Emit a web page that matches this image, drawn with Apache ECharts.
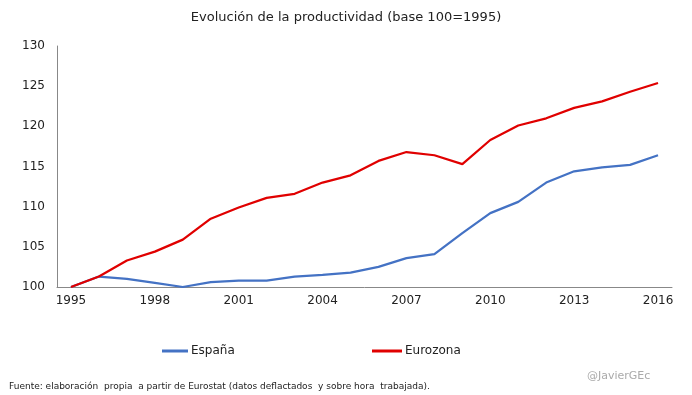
<!DOCTYPE html>
<html>
<head>
<meta charset="utf-8">
<script src="https://cdn.jsdelivr.net/npm/echarts@6/dist/echarts.min.js"></script>
<style>
html,body{margin:0;padding:0;background:#fff;}
#chart{width:692px;height:395px;}
</style>
</head>
<body>
<div id="chart"></div>
<script>
var years = ['1995','1996','1997','1998','1999','2000','2001','2002','2003','2004','2005','2006','2007','2008','2009','2010','2011','2012','2013','2014','2015','2016'];
var espana = [100, 101.3, 101.0, 100.5, 100.0, 100.6, 100.8, 100.8, 101.3, 101.5, 101.8, 102.5, 103.6, 104.1, 106.7, 109.2, 110.6, 113.0, 114.4, 114.9, 115.2, 116.4];
var eurozona = [100, 101.3, 103.3, 104.4, 105.9, 108.5, 109.9, 111.1, 111.6, 113.0, 113.9, 115.7, 116.8, 116.4, 115.3, 118.3, 120.1, 121.0, 122.3, 123.1, 124.3, 125.4];
var seriesNames = ['España', 'Eurozona'];
var titleText = 'Evolución de la productividad (base 100=1995)';
var sourceText = 'Fuente: elaboración  propia  a partir de Eurostat (datos deflactados  y sobre hora  trabajada).';
var authorText = '@JavierGEc';

var FONT = 'DejaVu Sans';
var chart = echarts.init(document.getElementById('chart'));
chart.setOption({
  animation: false,
  textStyle: {fontFamily: FONT},
  title: [
    {text: titleText, left: 'center', top: 6, textStyle: {fontFamily: FONT, fontSize: 13, fontWeight: 'normal', color: '#222'}},
    {text: sourceText, left: 4, top: 377, textStyle: {fontFamily: FONT, fontSize: 9, fontWeight: 'normal', color: '#222'}},
    {text: authorText, left: 582, top: 366, textStyle: {fontFamily: FONT, fontSize: 11, fontWeight: 'normal', color: '#aaa'}}
  ],
  legend: [
    {data: [seriesNames[0]], left: 157, top: 340, icon: 'rect', itemWidth: 26, itemHeight: 3, itemGap: 3,
     textStyle: {fontFamily: FONT, fontSize: 12, color: '#222', padding: [0,0,0,-2]}},
    {data: [seriesNames[1]], left: 367, top: 340, icon: 'rect', itemWidth: 30, itemHeight: 3,
     textStyle: {fontFamily: FONT, fontSize: 12, color: '#222', padding: [0,0,0,-2]}}
  ],
  grid: {left: 57, right: 20, top: 46, bottom: 108, containLabel: false},
  xAxis: {
    type: 'category', data: years, boundaryGap: true,
    axisLine: {lineStyle: {color: '#888', width: 1}},
    axisTick: {show: false},
    axisLabel: {interval: 2, color: '#222', fontSize: 12, margin: 8, fontFamily: FONT}
  },
  yAxis: {
    type: 'value', min: 100, max: 130, interval: 5,
    axisLine: {show: true, lineStyle: {color: '#888', width: 1}},
    axisTick: {show: false},
    splitLine: {show: false},
    axisLabel: {color: '#222', fontSize: 12, margin: 12, fontFamily: FONT}
  },
  series: [
    {name: seriesNames[0], type: 'line', data: espana, symbol: 'none', lineStyle: {color: '#4472C4', width: 2.25}, itemStyle: {color: '#4472C4'}},
    {name: seriesNames[1], type: 'line', data: eurozona, symbol: 'none', lineStyle: {color: '#E00000', width: 2.25}, itemStyle: {color: '#E00000'}}
  ]
});
</script>
</body>
</html>
